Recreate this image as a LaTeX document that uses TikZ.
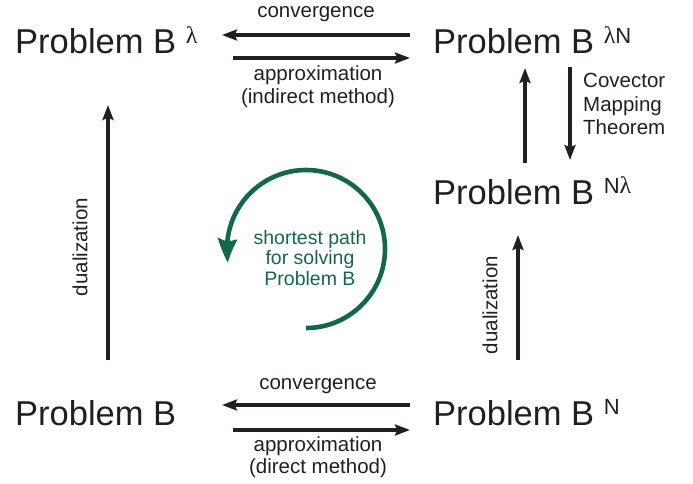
\documentclass[tikz,border=0pt]{standalone}
\usepackage{fontspec}
\setmainfont{Liberation Sans}
\newfontfamily\grk{Liberation Serif}
\usetikzlibrary{arrows.meta,calc,bending}
\definecolor{ink}{RGB}{35,31,32}
\definecolor{pathgreen}{RGB}{18,104,72}
\newcommand\bigtxt{\fontsize{34.5}{40}\selectfont}
\newcommand\smltxt{\fontsize{20.5}{23.5}\selectfont}
\newcommand\uptxt{\fontsize{22}{24}\selectfont}
\newcommand\upidx[1]{\raisebox{10.5pt}{\uptxt #1}}
\newcommand\lam{{\grk\fontsize{24}{24}\selectfont λ}}
\begin{document}
\begin{tikzpicture}[x=1pt,y=-1pt,
  prob/.style={anchor=base west, inner sep=0pt, text=ink, font=\bigtxt},
  lbl/.style={inner sep=0pt, text=ink, font=\smltxt, align=center},
  arr/.style={draw=ink, line width=3.2pt, -{Stealth[length=15pt,width=11pt,inset=2.5pt]}},
  greenarr/.style={draw=pathgreen, line width=4.6pt, -{Stealth[length=24pt,width=19pt,inset=3pt,bend]}},
]
\useasboundingbox (0,0) rectangle (693,484);
% problems
\node[prob] (pl)  at (15,54)   {Problem B \upidx{\lam}};
\node[prob] (pln) at (433,54)  {Problem B \upidx{\lam N}};
\node[prob] (pnl) at (433,204) {Problem B \upidx{N\lam}};
\node[prob] (p)   at (15,425)  {Problem B};
\node[prob] (pn)  at (433,425) {Problem B \upidx{N}};
% top arrows
\draw[arr] ($(pln.base west)+(-23,-19)$) -- ($(pl.base west)+(207,-19)$);
\draw[arr] ($(pl.base west)+(218,4)$) -- ($(pln.base west)+(-23,4)$);
% bottom arrows
\draw[arr] ($(pn.base west)+(-23,-20)$) -- ($(p.base west)+(207,-20)$);
\draw[arr] ($(p.base west)+(218,5)$) -- ($(pn.base west)+(-23,5)$);
% vertical arrows
\draw[arr] ($(p.base west)+(93,-65)$) -- ($(pl.base west)+(93,51)$);
\draw[arr] ($(pnl.base west)+(92,-41)$) -- ($(pln.base west)+(92,14)$);
\draw[arr] ($(pln.base west)+(137,13)$) -- ($(pnl.base west)+(137,-44)$);
\draw[arr] ($(pn.base west)+(85,-65)$) -- ($(pnl.base west)+(85,31)$);
% labels
\node[lbl, anchor=base] (conv1) at (316,18) {convergence};
\node[lbl, anchor=base] (appr1) at (318,104) {approximation\\(indirect method)};
\node[lbl, anchor=base] (conv2) at (318,389) {convergence};
\node[lbl, anchor=base, font=\fontsize{20.5}{21.5}\selectfont] (appr2) at (318,473) {approximation\\(direct method)};
\node[lbl, align=left, anchor=base west] (cmt) at (583,135) {Covector\\Mapping\\Theorem};
\node[lbl, rotate=90] (du1) at (80,247) {dualization};
\node[lbl, rotate=90] (du2) at (490,305) {dualization};
% shortest path
\node[inner sep=0pt, text=pathgreen, font=\fontsize{19.5}{20.5}\selectfont, align=center] (sp) at (310,258) {shortest path\\for solving\\Problem B};
\draw[greenarr] (306,328) arc[start angle=90, end angle=-190, radius=79];
\end{tikzpicture}
\end{document}
